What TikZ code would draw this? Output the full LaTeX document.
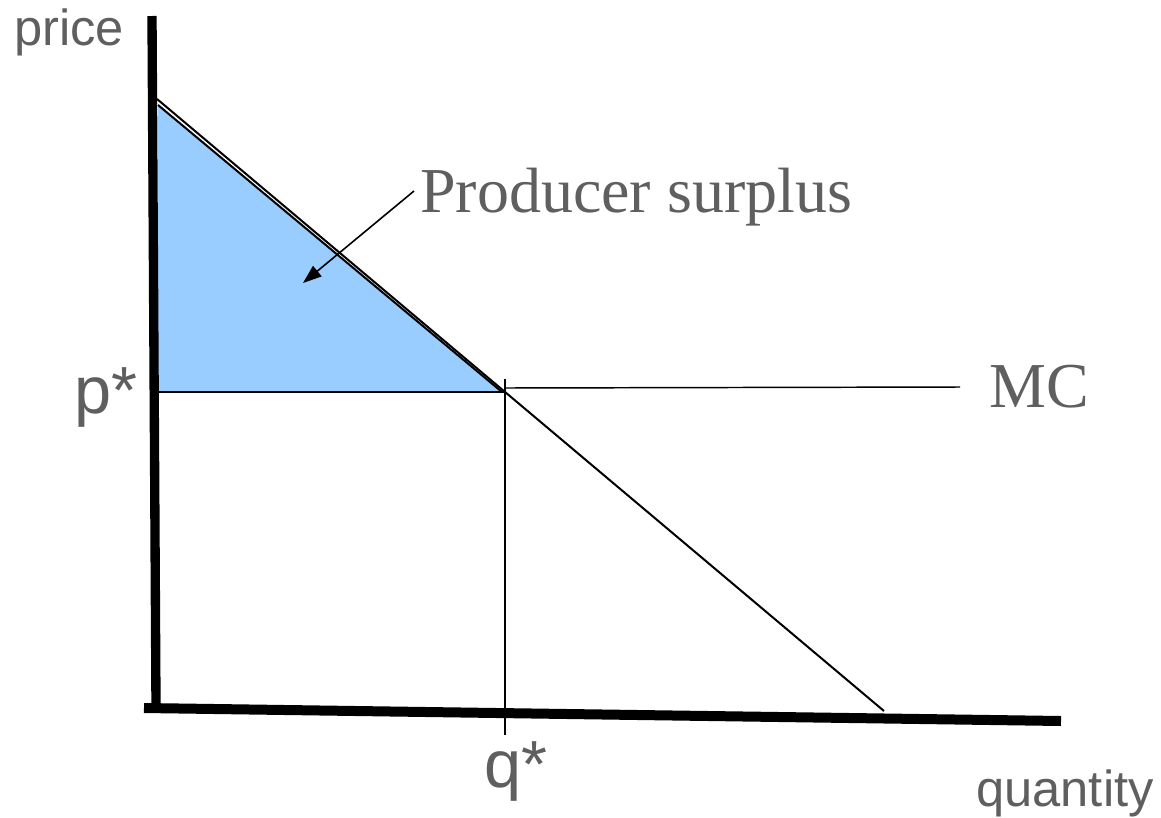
\documentclass[tikz,border=0pt]{standalone}
\usepackage{fontspec}
\setmainfont{Liberation Serif}
\newfontfamily\arialf{Liberation Sans}
\usetikzlibrary{arrows.meta}
\definecolor{txtgray}{HTML}{5F5F5F}
\definecolor{psblue}{HTML}{99CCFF}
\tikzset{
  axisline/.style={line width=7pt, line cap=butt},
  thinline/.style={line width=1.3pt},
  sanslabel/.style={inner sep=0pt, anchor=base west, text=txtgray, font=\arialf\fontsize{38}{44}\selectfont},
  starlabel/.style={inner sep=0pt, anchor=base west, text=txtgray, font=\arialf\fontsize{50}{56}\selectfont},
  seriflabel/.style={inner sep=0pt, anchor=base west, text=txtgray, font=\fontsize{48}{54}\selectfont},
}
\begin{document}
\begin{tikzpicture}[x=0.75pt, y=-0.75pt]
\useasboundingbox (0,0) rectangle (1161,818);
% coordinates
\coordinate (ytop) at (152,16);
\coordinate (ybot) at (156,706);
\coordinate (xleft) at (144,708);
\coordinate (xright) at (1061,721);
\coordinate (dtop) at (157,99);
\coordinate (dbot) at (884,711);
\coordinate (ttop) at (158,105);
\coordinate (tleft) at (158,392);
\coordinate (tright) at (502,392);
\coordinate (eq) at (505,392);
\coordinate (mcstart) at (505,388);
\coordinate (mcend) at (960,387);
\coordinate (qtop) at (505,379);
\coordinate (qbot) at (505,735);
\coordinate (arrstart) at (414,191);
\coordinate (arrend) at (303,283);
% shaded triangle
\fill[psblue] (ttop) -- (tleft) -- (tright) -- cycle;
\draw[thinline, line width=1.5pt] (ttop) -- (tright);
\draw[thinline, line width=1.5pt] (tleft) -- (eq);
% demand line
\draw[thinline, line width=1.5pt] (dtop) -- (dbot);
% MC line
\draw[thinline, line width=1.1pt] (mcstart) -- (mcend);
% q* line
\draw[thinline, line width=1.1pt] (qtop) -- (qbot);
% axes
\draw[axisline] (ytop) -- (ybot);
\draw[axisline, line width=7.5pt] (xleft) -- (xright);
% arrow
\draw[thinline, line width=1.2pt, -{Triangle[length=14pt, width=10pt]}] (arrstart) -- (arrend);
% labels
\node[sanslabel] (price) at (14,45) {price};
\node[sanslabel] (quantity) at (976,806) {quantity};
\node[starlabel] (pstar) at (74,413) {p*};
\node[starlabel] (qstar) at (484,787) {q*};
\node[seriflabel] (ps) at (420,212) {Producer surplus};
\node[seriflabel] (mc) at (989,407) {MC};
\end{tikzpicture}
\end{document}
